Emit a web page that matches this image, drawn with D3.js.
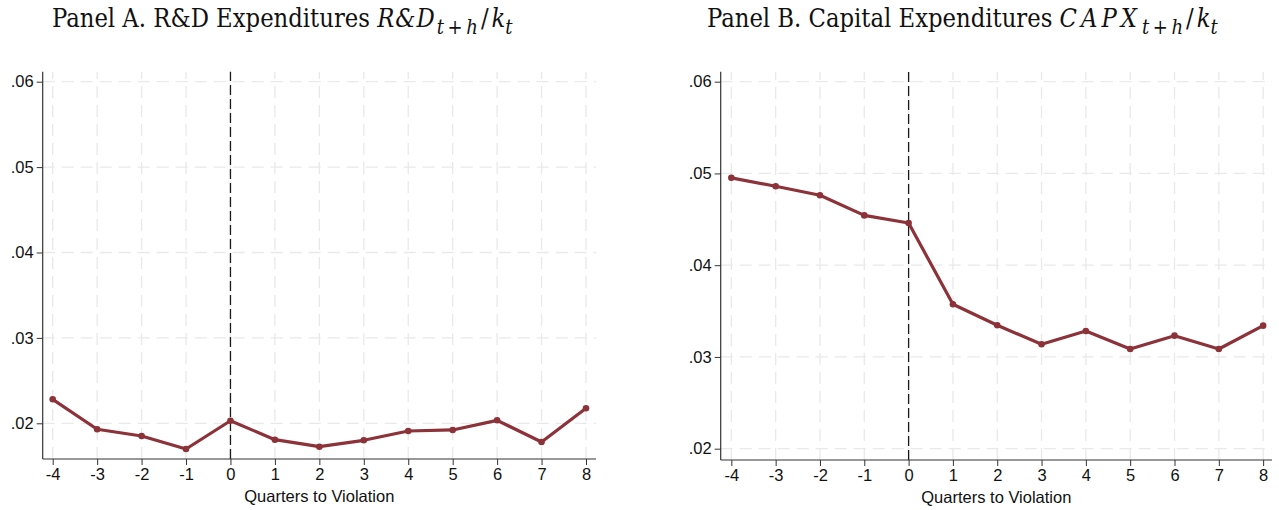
<!DOCTYPE html>
<html><head><meta charset="utf-8">
<script src="https://cdn.jsdelivr.net/npm/d3@7"></script>
<style>body{margin:0;background:#fff}svg{display:block}</style>
</head><body>
<svg id="c" width="1279" height="510"></svg>
<script>
const quarters = [-4,-3,-2,-1,0,1,2,3,4,5,6,7,8];
const rdValues = [0.02281,0.01930,0.01851,0.01699,0.02030,0.01808,0.01726,0.01801,0.01910,0.01922,0.02035,0.01781,0.02176];
const capxValues = [0.04952,0.04860,0.04762,0.04543,0.04460,0.03574,0.03345,0.03138,0.03283,0.03087,0.03232,0.03087,0.03341];
const yTicks = [0.02,0.03,0.04,0.05,0.06];
const yTickLabels = [".02",".03",".04",".05",".06"];
const xLabel = "Quarters to Violation";

const svg = d3.select("#c");
const lineColor = "#8c3238";
const gridColor = "#e9e9e9";
const sans = "'Liberation Sans', Arial, sans-serif";

function panel(cfg){
  const g = svg.append("g");
  const x = d3.scaleLinear().domain(cfg.xd).range(cfg.xr);
  const y = d3.scaleLinear().domain(cfg.yd).range(cfg.yr);
  g.selectAll(".vg").data(quarters).join("line")
    .attr("x1",d=>x(d)).attr("x2",d=>x(d)).attr("y1",cfg.yr[0]).attr("y2",cfg.yr[1])
    .attr("stroke",gridColor).attr("stroke-width",1.3).attr("stroke-dasharray","12,7");
  g.selectAll(".hg").data(yTicks).join("line")
    .attr("x1",cfg.xr[0]).attr("x2",cfg.xr[1]).attr("y1",d=>y(d)).attr("y2",d=>y(d))
    .attr("stroke",gridColor).attr("stroke-width",1.3).attr("stroke-dasharray","12,7");
  g.append("line").attr("x1",x(0)).attr("x2",x(0)).attr("y1",cfg.yr[0]).attr("y2",cfg.yr[1])
    .attr("stroke","#1a1a1a").attr("stroke-width",1.3).attr("stroke-dasharray","10,4");
  const ya = d3.axisLeft(y).tickValues(yTicks).tickFormat((d,i)=>yTickLabels[i]).tickSize(6).tickPadding(3);
  const yg = g.append("g").attr("transform",`translate(${cfg.xr[0]},0)`).call(ya);
  const xa = d3.axisBottom(x).tickValues(quarters).tickFormat(d=>String(d)).tickSize(6).tickPadding(3);
  const xg = g.append("g").attr("transform",`translate(0,${cfg.yr[0]})`).call(xa);
  [yg,xg].forEach(a=>{
    a.attr("font-family",sans).attr("font-size",16.5);
    a.select(".domain").attr("stroke","#333").attr("stroke-width",1.2)
      .attr("d", a===yg ? `M0,${cfg.yr[0]}V${cfg.yr[1]}` : `M${cfg.xr[0]},0H${cfg.xr[1]}`);
    a.selectAll(".tick line").attr("stroke","#333");
    a.selectAll(".tick text").attr("fill","#111");
  });
  g.append("text").attr("x",(cfg.xr[0]+cfg.xr[1])/2).attr("y",cfg.yr[0]+43)
    .attr("text-anchor","middle").attr("font-family",sans).attr("font-size",16.5)
    .attr("fill","#111").text(xLabel);
  const pts = quarters.map((q,i)=>[q,cfg.vals[i]]);
  g.append("path").datum(pts).attr("fill","none").attr("stroke",lineColor).attr("stroke-width",3.2)
    .attr("stroke-linejoin","round")
    .attr("d",d3.line().x(d=>x(d[0])).y(d=>y(d[1])));
  g.selectAll(".pt").data(pts).join("circle").attr("cx",d=>x(d[0])).attr("cy",d=>y(d[1]))
    .attr("r",3.3).attr("fill",lineColor);
  const t = svg.append("text").attr("x",cfg.tx).attr("y",27)
    .attr("font-family","'DejaVu Serif Condensed', 'DejaVu Serif', serif").attr("font-size",25.3).attr("fill","#111");
  t.append("tspan").text(cfg.title);
  t.append("tspan").attr("font-style","italic").attr("letter-spacing",cfg.ls).text(cfg.mathVar);
  t.append("tspan").attr("font-style","italic").attr("font-size",20).attr("dy",7).attr("dx",1).text("t\u2009+\u2009h");
  t.append("tspan").attr("dy",-7).attr("dx",3).text("/");
  t.append("tspan").attr("font-style","italic").attr("dx",3).text("k");
  t.append("tspan").attr("font-style","italic").attr("font-size",20).attr("dy",7).text("t");
}

panel({vals:rdValues, xd:[-4.225,8.225], xr:[42.7,596], yd:[0.01582,0.06117], yr:[459,71.7],
  tx:52, title:"Panel A. R&D Expenditures ", mathVar:"R&D", ls:1});
panel({vals:capxValues, xd:[-4.24,8.2], xr:[720.7,1272], yd:[0.018768,0.06109], yr:[460,71.7],
  tx:707, title:"Panel B. Capital Expenditures ", mathVar:"CAPX", ls:4});
</script>
</body></html>
